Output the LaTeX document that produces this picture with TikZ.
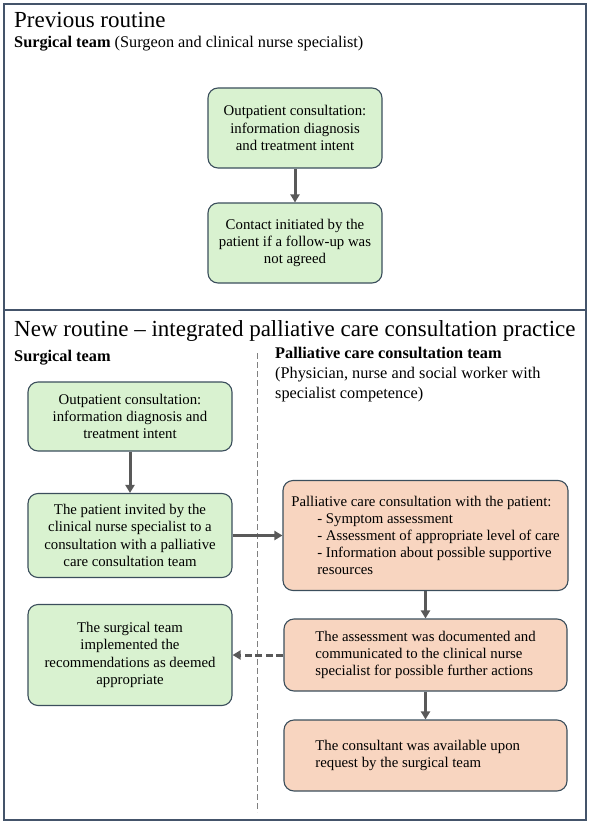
\documentclass[tikz,border=0pt]{standalone}
\usepackage{fontspec}
\setmainfont{Liberation Serif}
\usepackage{xcolor}
\usetikzlibrary{arrows.meta}

\definecolor{framec}{HTML}{44546A}
\definecolor{edgec}{HTML}{3B4E5C}
\definecolor{greenc}{HTML}{D9F2D0}
\definecolor{pinkc}{HTML}{F8D5C0}
\definecolor{arrowc}{HTML}{595959}

\newlength\pinkwidth

\begin{document}
\settowidth{\pinkwidth}{\fontsize{14.8}{17.2}\selectfont The assessment was documented and}
\begin{tikzpicture}[
    x=1pt, y=-1pt,
    box/.style={
        rectangle,
        rounded corners=10pt,
        line width=1.1pt,
        draw=edgec,
        fill=greenc,
        inner sep=4pt,
        align=center,
        font=\fontsize{14.8}{17.2}\selectfont
    },
    pbox/.style={
        box,
        fill=pinkc,
        align=left
    },
    label/.style={
        inner sep=0pt,
        anchor=base west,
        font=\fontsize{16.3}{20}\selectfont
    },
    title/.style={
        inner sep=0pt,
        anchor=base west,
        font=\fontsize{23}{26}\selectfont
    },
    arrow/.style={-{Triangle[length=8pt,width=9pt]}, line width=3pt, arrowc},
    dasharrow/.style={arrow, dashed, dash pattern=on 7pt off 3.5pt}
]
\useasboundingbox (0,0) rectangle (590,824);

% Frames
\draw[framec, line width=1.2pt] (4,4) rectangle (586,310);
\draw[framec, line width=1.2pt] (4,310) rectangle (586,820);

% Previous routine
\node[title] (prevtitle) at (14,28) {Previous routine};
\node[label] (prevteam) at (14,48) {\textbf{Surgical team} (Surgeon and clinical nurse specialist)};

\node[box, minimum width=174pt, minimum height=80pt] (prev1) at (295,128) {
Outpatient consultation:\\
information diagnosis\\
and treatment intent
};

\node[box, minimum width=174pt, minimum height=80pt] (prev2) at (295,243) {
Contact initiated by the\\
patient if a follow-up was\\
not agreed
};

\draw[arrow] (prev1) -- (prev2);

% New routine
\node[title] (newtitle) at (14,336) {New routine -- integrated palliative care consultation practice};
\node[label] (surgteam) at (14,361) {\textbf{Surgical team}};
\node[label, align=left, anchor=north west] (palteam) at (275,347) {
\textbf{Palliative care consultation team}\\
(Physician, nurse and social worker with\\
specialist competence)
};

% Divider
\coordinate (divtop) at (257,353);
\coordinate (divbot) at (257,812);
\draw[gray, line width=0.8pt, dashed, dash pattern=on 6pt off 3pt] (divtop) -- (divbot);

% Surgical team boxes
\node[box, minimum width=204pt, minimum height=69pt] (s1) at (130,416.5) {
Outpatient consultation:\\
information diagnosis and\\
treatment intent
};

\node[box, minimum width=204pt, minimum height=84pt] (s2) at (130,535.5) {
The patient invited by the\\
clinical nurse specialist to a\\
consultation with a palliative\\
care consultation team
};

\node[box, minimum width=204pt, minimum height=101pt] (s3) at (130,655) {
The surgical team\\
implemented the\\
recommendations as deemed\\
appropriate
};

% Palliative team boxes
\node[pbox, minimum width=285pt, minimum height=110pt] (p1) at (425.5,535.5) {
Palliative care consultation with the patient:\\
\hspace*{26pt}- Symptom assessment\\
\hspace*{26pt}- Assessment of appropriate level of care\\
\hspace*{26pt}- Information about possible supportive\\
\hspace*{26pt}resources
};

\node[pbox, minimum width=283pt, minimum height=72pt] (p2) at (425.5,655) {
The assessment was documented and\\
communicated to the clinical nurse\\
specialist for possible further actions
};

\node[pbox, minimum width=283pt, minimum height=71pt] (p3) at (425.5,755.5) {
\makebox[\pinkwidth][l]{The consultant was available upon}\\
request by the surgical team
};

% Arrows
\draw[arrow] (s1) -- (s2);
\draw[arrow] (s2) -- (p1);
\draw[arrow] (p1) -- (p2);
\draw[arrow] (p2) -- (p3);
\draw[dasharrow] (p2) -- (s3);

\end{tikzpicture}
\end{document}
